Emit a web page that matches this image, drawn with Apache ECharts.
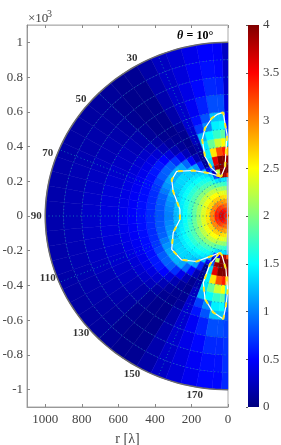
<!DOCTYPE html>
<html><head><meta charset="utf-8">
<style>html,body{margin:0;padding:0;background:#fff}#main{width:281px;height:445px}</style>
<script src="https://cdn.jsdelivr.net/npm/echarts@6/dist/echarts.min.js"></script>
</head><body><div id="main"></div>
<script>
const yTickValues = [-1,-0.8,-0.6,-0.4,-0.2,0,0.2,0.4,0.6,0.8,1];
const jetColors = ['#00007f','#0000ff','#0080ff','#00ffff','#80ff80','#ffff00','#ff8000','#ff0000','#800000'];
const ringRadii = [100,200,300,400,500,600,700,800,900];
const spokeAngles = [22.5,45,67.5,90,112.5,135,157.5];
const angleLabels = [30,50,70,90,110,130,150,170];
const rEdges = [0,25,50,75,100,125,150,175,200,225,250,275,300,350,400,450,500,550,600,700,800,900,1000];
const thetaEdges = [0,2,5,10,15,20,25,30,35,40,45,50,55,60,65,70,75,80,85,90,95,100,105,110,115,120,125,130,135,140,145,150,155,160,165,170,175,178,180];
// one row per theta bin, one value per r bin
const fieldRows = [
[2.5,3.0,2.8,2.6,2.4,2.1,1.8,1.5,1.3,3.2,4,4,3.9,2.8,1.4,.8,.6,.5,.36,.3,.28,.26],
[3.1,3.2,3.0,2.8,2.55,2.3,2.0,1.65,1.35,3.8,4,4,4,3.4,2.5,1.85,1.5,1.25,.8,.62,.52,.48],
[3.2,3.3,3.1,2.85,2.6,2.35,2.05,1.7,1.4,3.9,4,4,4,3.2,2.3,1.7,1.45,1.25,.8,.65,.55,.5],
[3.2,3.3,3.1,2.9,2.62,2.4,2.1,1.75,1.3,.5,2.2,3.9,3.6,2.6,1.9,1.5,1.05,.82,.62,.52,.46,.42],
[3.2,3.3,3.1,2.9,2.65,2.42,2.15,1.8,1.4,.8,.25,.9,1.35,1.45,1.4,1.2,.72,.55,.45,.4,.36,.33],
[3.2,3.35,3.15,2.9,2.68,2.45,2.2,1.88,1.6,1.4,1.2,.45,.1,.08,.15,.25,.3,.32,.3,.3,.28,.26],
[3.25,3.4,3.2,2.95,2.7,2.5,2.25,1.95,1.72,1.54,1.38,1.24,.62,.2,.08,.05,.07,.11,.16,.18,.18,.16],
[3.3,3.45,3.25,2.95,2.7,2.5,2.27,2,1.75,1.58,1.45,1.32,1.12,.52,.22,.1,.07,.05,.05,.06,.06,.08],
[3.3,3.5,3.3,3,2.7,2.5,2.27,2.02,1.78,1.62,1.5,1.38,1.26,.9,.42,.2,.11,.07,.05,.05,.05,.07],
[3.3,3.5,3.3,3,2.7,2.48,2.26,2.03,1.8,1.64,1.52,1.42,1.33,1.15,.68,.36,.22,.15,.1,.08,.08,.1],
[3.35,3.55,3.3,3,2.68,2.46,2.25,2.03,1.82,1.66,1.54,1.44,1.35,1.2,.85,.5,.32,.24,.17,.14,.12,.12],
[3.4,3.6,3.35,3,2.66,2.44,2.24,2.02,1.82,1.66,1.54,1.44,1.35,1.2,.88,.58,.38,.29,.21,.17,.15,.13],
[3.4,3.6,3.35,3,2.66,2.44,2.22,2,1.8,1.66,1.52,1.42,1.32,1.15,.85,.58,.41,.32,.25,.2,.17,.14],
[3.4,3.6,3.35,3,2.64,2.42,2.2,1.98,1.79,1.65,1.52,1.4,1.28,1.08,.76,.55,.42,.34,.27,.22,.18,.15],
[3.4,3.65,3.4,3,2.62,2.4,2.16,1.95,1.77,1.62,1.48,1.38,1.22,.98,.7,.54,.44,.37,.3,.25,.2,.16],
[3.4,3.65,3.4,3,2.62,2.38,2.14,1.92,1.75,1.58,1.44,1.32,1.12,.88,.67,.54,.45,.39,.32,.26,.21,.17],
[3.4,3.65,3.4,3,2.6,2.36,2.12,1.9,1.72,1.56,1.42,1.28,1.07,.85,.66,.54,.46,.4,.34,.27,.21,.17],
[3.4,3.65,3.4,3,2.6,2.35,2.1,1.87,1.68,1.52,1.38,1.24,1.03,.83,.66,.55,.47,.41,.35,.28,.22,.17],
[3.4,3.65,3.4,3,2.6,2.35,2.1,1.85,1.65,1.5,1.35,1.22,1,.82,.66,.55,.48,.42,.36,.29,.22,.17],
[3.4,3.65,3.4,3,2.6,2.35,2.1,1.85,1.65,1.5,1.35,1.22,1,.82,.66,.55,.48,.42,.36,.29,.22,.18],
[3.4,3.65,3.4,3,2.6,2.35,2.1,1.87,1.68,1.52,1.38,1.24,1.03,.83,.66,.55,.47,.41,.35,.28,.22,.17],
[3.4,3.65,3.4,3,2.6,2.36,2.12,1.9,1.72,1.56,1.42,1.28,1.07,.85,.66,.54,.46,.4,.34,.27,.21,.17],
[3.4,3.65,3.4,3,2.62,2.38,2.14,1.92,1.75,1.58,1.44,1.32,1.12,.88,.67,.54,.45,.39,.32,.26,.21,.17],
[3.4,3.65,3.4,3,2.62,2.4,2.16,1.95,1.77,1.62,1.48,1.38,1.22,.98,.7,.54,.44,.37,.3,.25,.2,.16],
[3.4,3.6,3.35,3,2.64,2.42,2.2,1.98,1.79,1.65,1.52,1.4,1.28,1.08,.76,.55,.42,.34,.27,.22,.18,.15],
[3.4,3.6,3.35,3,2.66,2.44,2.22,2,1.8,1.66,1.52,1.42,1.32,1.15,.85,.58,.41,.32,.25,.2,.17,.14],
[3.4,3.6,3.35,3,2.66,2.44,2.24,2.02,1.82,1.66,1.54,1.44,1.35,1.2,.88,.58,.38,.29,.21,.17,.15,.13],
[3.35,3.55,3.3,3,2.68,2.46,2.25,2.03,1.82,1.66,1.54,1.44,1.35,1.2,.85,.5,.32,.24,.17,.14,.12,.12],
[3.3,3.5,3.3,3,2.7,2.48,2.26,2.03,1.8,1.64,1.52,1.42,1.33,1.15,.68,.36,.22,.15,.1,.08,.08,.1],
[3.3,3.5,3.3,3,2.7,2.5,2.27,2.02,1.78,1.62,1.5,1.38,1.26,.9,.42,.2,.12,.08,.06,.05,.05,.07],
[3.3,3.45,3.25,2.95,2.7,2.5,2.27,2,1.75,1.58,1.45,1.32,1.12,.52,.22,.1,.07,.06,.05,.06,.07,.08],
[3.25,3.4,3.2,2.95,2.7,2.5,2.25,1.95,1.72,1.54,1.38,1.24,.62,.2,.08,.06,.08,.11,.16,.18,.18,.16],
[3.2,3.35,3.15,2.9,2.68,2.45,2.2,1.88,1.6,1.4,1.2,.45,.1,.08,.15,.25,.3,.32,.31,.31,.29,.27],
[3.2,3.3,3.1,2.9,2.65,2.42,2.15,1.8,1.4,.8,.25,.9,1.35,1.45,1.4,1.2,.74,.57,.46,.41,.37,.35],
[3.2,3.3,3.1,2.9,2.62,2.4,2.1,1.75,1.3,.5,2.2,3.9,3.6,2.6,1.9,1.5,1.05,.82,.62,.52,.46,.44],
[3.2,3.3,3.1,2.85,2.6,2.35,2.05,1.7,1.4,3.9,4,4,4,3.2,2.3,1.7,1.45,1.25,.8,.65,.55,.52],
[3.1,3.2,3.0,2.8,2.55,2.3,2.0,1.65,1.35,3.8,4,4,4,3.4,2.5,1.85,1.5,1.25,.8,.65,.56,.52],
[2.5,3.0,2.8,2.6,2.4,2.1,1.8,1.5,1.3,3.2,4,4,3.9,2.8,1.6,1.1,.95,.85,.75,.7,.68,.65]
];
const upperLobeX = [38,89,126,141,126,89,60,26,18,5,11,16,38];
const upperLobeY = [.226,.276,.343,.438,.505,.563,.585,.597,.543,.467,.381,.284,.226];
const mainLobeX = [38,108,190,281,308,300,263,263,300,308,254,172,89,44];
const mainLobeY = [.226,.248,.262,.257,.209,.142,.037,-.02,-.096,-.192,-.253,-.262,-.230,-.211];
const lowerLobeX = [44,99,135,126,81,26,11,2,11,33,44];
const lowerLobeY = [-.211,-.278,-.383,-.479,-.555,-.593,-.517,-.431,-.307,-.226,-.211];
const edgeStripX = [4,3,4];
const edgeStripY = [.22,0,-.22];

const serif = '"Liberation Serif", serif';
const rad = d => d*Math.PI/180;
const toXY = (r,t) => [r*Math.sin(rad(t)), r*Math.cos(rad(t))/1000];

const cells = [];
fieldRows.forEach((row,i)=>row.forEach((v,j)=>{
  cells.push([thetaEdges[i],thetaEdges[i+1],rEdges[j],rEdges[j+1],v]);
}));
function renderCell(params, api){
  const t0=api.value(0),t1=api.value(1),r0=api.value(2),r1=api.value(3);
  const pts=[];
  const n=Math.max(2,Math.ceil((t1-t0)));
  for(let k=0;k<=n;k++) pts.push(api.coord(toXY(r1,t0+(t1-t0)*k/n)));
  for(let k=n;k>=0;k--) pts.push(api.coord(toXY(r0,t0+(t1-t0)*k/n)));
  const c=api.visual('color');
  return {type:'polygon',shape:{points:pts},style:{fill:c,stroke:c,lineWidth:0.5}};
}
function arcSeries(items,style,z){
  return {type:'custom',coordinateSystem:'cartesian2d',xAxisIndex:0,yAxisIndex:0,z,silent:true,clip:false,
    data:items,
    renderItem(params,api){
      const kind=api.value(0),val=api.value(1);
      const pts=[];
      if(kind===0){for(let t=0;t<=180;t+=2)pts.push(api.coord(toXY(val,t)));}
      else{pts.push(api.coord(toXY(0,val)));pts.push(api.coord(toXY(1000,val)));}
      return {type:'polyline',shape:{points:pts},style:Object.assign({fill:null},style)};
    }};
}
function contourSeries(xs,ys){
  const d=xs.map((x,i)=>[x,ys[i]]);
  const base={type:'line',xAxisIndex:0,yAxisIndex:0,showSymbol:false,symbol:'none',silent:true,data:d,clip:false};
  return [
    Object.assign({},base,{z:8,lineStyle:{color:'#ffffff',width:1.2}}),
    Object.assign({},base,{z:9,lineStyle:{color:'#ffe81a',width:2,type:[5,8]}})
  ];
}
const labelFont={fontFamily:serif,fontSize:13,color:'#444'};
const chart=echarts.init(document.getElementById('main'),null,{renderer:'canvas'});
chart.setOption({
  animation:false,
  backgroundColor:'#fff',
  grid:[
    {left:27,top:25,width:201,height:382,outerBoundsMode:'none',show:true,borderColor:'#aaa',borderWidth:1,backgroundColor:'#fff'},
    {left:248,top:25,width:11,height:382,outerBoundsMode:'none'}
  ],
  xAxis:[
    {gridIndex:0,type:'value',min:0,max:1100,interval:200,inverse:true,position:'bottom',
     axisLine:{show:true,onZero:false,lineStyle:{color:'#999'}},
     axisTick:{show:true,inside:true,length:3,lineStyle:{color:'#888'}},
     splitLine:{show:false},
     axisLabel:Object.assign({margin:6,formatter:v=>String(v)},labelFont),
     name:'r [λ]',nameLocation:'middle',nameGap:25,nameTextStyle:{fontFamily:serif,fontSize:14,color:'#444'}},
    {gridIndex:0,type:'value',min:0,max:1100,interval:200,inverse:true,position:'top',
     axisLine:{show:true,onZero:false,lineStyle:{color:'#bbb'}},
     axisTick:{show:true,inside:true,length:3,lineStyle:{color:'#888'}},
     axisLabel:{show:false},splitLine:{show:false}},
    {gridIndex:1,type:'value',min:0,max:1,show:false}
  ],
  yAxis:[
    {gridIndex:0,type:'value',min:-1.1,max:1.1,position:'left',
     axisLine:{show:true,onZero:false,lineStyle:{color:'#999'}},
     axisTick:{show:true,inside:true,length:3,customValues:yTickValues,lineStyle:{color:'#888'}},
     splitLine:{show:false},
     axisLabel:Object.assign({margin:4,customValues:yTickValues,formatter:v=>String(v)},labelFont)},
    {gridIndex:1,type:'value',min:0,max:4,interval:0.5,position:'right',
     axisLine:{show:false},
     axisTick:{show:true,inside:true,length:2,lineStyle:{color:'#555'}},
     splitLine:{show:false},
     axisLabel:Object.assign({margin:4},labelFont)}
  ],
  visualMap:{type:'continuous',show:false,min:0,max:4,dimension:4,seriesIndex:0,inRange:{color:jetColors}},
  series:[
    {type:'custom',coordinateSystem:'cartesian2d',xAxisIndex:0,yAxisIndex:0,z:2,silent:true,clip:false,
     dimensions:['t0','t1','r0','r1','v'],data:cells,renderItem:renderCell},
    arcSeries(ringRadii.map(r=>[0,r]).concat(spokeAngles.map(a=>[1,a])),{stroke:'rgba(20,130,185,0.8)',lineWidth:1,lineDash:[1,2.5]},5),
    arcSeries([[0,1000]],{stroke:'#6a6a6a',lineWidth:1.5},6),
    ...contourSeries(upperLobeX,upperLobeY),
    ...contourSeries(mainLobeX,mainLobeY),
    ...contourSeries(lowerLobeX,lowerLobeY),
    {type:'line',xAxisIndex:0,yAxisIndex:0,showSymbol:false,symbol:'none',silent:true,z:8,clip:false,
     data:edgeStripX.map((x,i)=>[x,edgeStripY[i]]),lineStyle:{color:'#b8b8f0',width:1}},
    {type:'scatter',xAxisIndex:0,yAxisIndex:0,z:10,symbolSize:0,silent:true,clip:false,
     data:angleLabels.map(a=>({value:toXY(1050,a),name:String(a)})),
     label:{show:true,position:'inside',formatter:p=>p.name,fontFamily:serif,fontWeight:'bold',fontSize:11,color:'#000'}},
    {type:'custom',coordinateSystem:'cartesian2d',xAxisIndex:2,yAxisIndex:1,z:3,silent:true,data:[[0,0,1,4]],
     renderItem(params,api){
       const a=api.coord([0,0]),b=api.coord([1,4]);
       const stops=jetColors.map((c,i)=>({offset:i/(jetColors.length-1),color:jetColors[jetColors.length-1-i]}));
       return {type:'rect',shape:{x:a[0],y:b[1],width:b[0]-a[0],height:a[1]-b[1]},
         style:{fill:new echarts.graphic.LinearGradient(0,0,0,1,stops)}};
     }}
  ],
  graphic:[
    {type:'text',left:28,top:12,z:20,style:{text:'×10',fontFamily:serif,fontSize:13,fill:'#444'}},
    {type:'text',left:47,top:9,z:20,style:{text:'3',fontFamily:serif,fontSize:10,fill:'#444'}},
    {type:'text',left:177,top:30,z:20,style:{
      text:'{a|θ} {b|= 10°}',
      rich:{a:{fontFamily:serif,fontStyle:'italic',fontWeight:'bold',fontSize:12,fill:'#000',color:'#000'},
            b:{fontFamily:serif,fontWeight:'bold',fontSize:12,fill:'#000',color:'#000'}}}}
  ]
});
</script></body></html>
